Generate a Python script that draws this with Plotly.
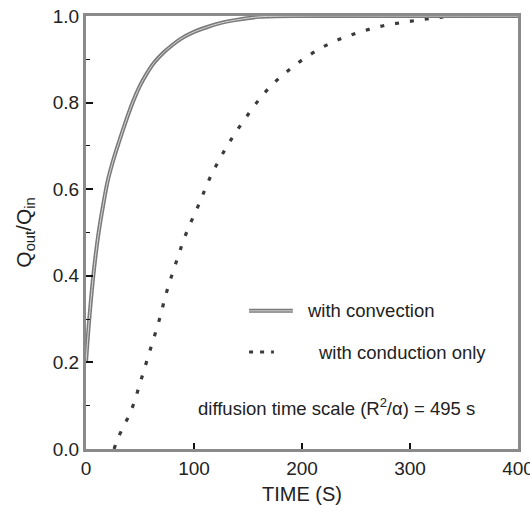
import plotly.graph_objects as go

# Data
conv_t = [0, 2.2, 4.6, 7.4, 11.4, 16, 20, 25, 30, 34.6, 39, 43.8, 50, 56.2, 63, 71.6, 80, 87, 98, 111.7, 125, 139.5, 160, 200, 300, 400]
conv_q = [0.20, 0.275, 0.345, 0.415, 0.495, 0.565, 0.618, 0.665, 0.705, 0.740, 0.772, 0.804, 0.839, 0.867, 0.892, 0.915, 0.933, 0.946, 0.961, 0.974, 0.984, 0.991, 0.998, 1.0, 1.0, 1.0]

cond_t = [26, 30, 42.3, 50.9, 59.3, 67.6, 74.7, 83.3, 92.6, 104.5, 115.7, 130.3, 147.9, 168.8,
          194.4, 221.3, 247.5, 274.4, 301, 327.8, 355, 365]
cond_q = [0.0, 0.027, 0.092, 0.159, 0.228, 0.296, 0.363, 0.43, 0.497, 0.565, 0.631, 0.698, 0.765, 0.832,
          0.888, 0.931, 0.958, 0.977, 0.988, 0.997, 1.0, 1.0]

x_ticks = [0, 100, 200, 300, 400]
y_ticks = [0.0, 0.2, 0.4, 0.6, 0.8, 1.0]
y_ticklabels = ["0.0", "0.2", "0.4", "0.6", "0.8", "1.0"]

FONT = "Liberation Sans, Arial, Helvetica, sans-serif"

fig = go.Figure()

# conduction only (dotted)
fig.add_trace(go.Scatter(
    x=cond_t, y=cond_q, mode="lines", line=dict(color="#3a3a3a", width=3.2, dash="4px,11px", shape="spline"),
    showlegend=False, hoverinfo="skip"))

# with convection (double-line look)
fig.add_trace(go.Scatter(
    x=conv_t, y=conv_q, mode="lines", line=dict(color="#7a7a7a", width=4, shape="spline", smoothing=0.8),
    showlegend=False, hoverinfo="skip"))
fig.add_trace(go.Scatter(
    x=conv_t, y=conv_q, mode="lines", line=dict(color="#d8d8d8", width=1, shape="spline", smoothing=0.8),
    showlegend=False, hoverinfo="skip"))

# Legend samples (manual, inside the plot)
fig.add_shape(type="line", xref="x", yref="y", x0=151, x1=191.5, y0=0.319, y1=0.319,
              line=dict(color="#7a7a7a", width=4))
fig.add_shape(type="line", xref="x", yref="y", x0=151, x1=191.5, y0=0.319, y1=0.319,
              line=dict(color="#d8d8d8", width=1))
fig.add_shape(type="line", xref="x", yref="y", x0=151, x1=174, y0=0.224, y1=0.224,
              line=dict(color="#3a3a3a", width=3, dash="4px,7px"))

fig.add_annotation(x=202.5, y=0.319, xref="x", yref="y", text="with convection", showarrow=False,
                   xanchor="left", yanchor="middle", font=dict(family=FONT, size=18.5, color="#222"))
fig.add_annotation(x=212.5, y=0.224, xref="x", yref="y", text="with conduction only", showarrow=False,
                   xanchor="left", yanchor="middle", font=dict(family=FONT, size=18.5, color="#222"))
fig.add_annotation(x=362, y=0.097, xref="x", yref="y",
                   text="diffusion time scale (R<sup>2</sup>/α) = 495 s", showarrow=False,
                   xanchor="right", yanchor="middle", font=dict(family=FONT, size=18.5, color="#222"))

fig.update_layout(
    width=530, height=511,
    margin=dict(l=86, r=12, t=16, b=62, autoexpand=False),
    paper_bgcolor="white", plot_bgcolor="white",
    font=dict(family=FONT, size=19, color="#222"),
)
fig.update_xaxes(
    range=[0, 400], tickvals=x_ticks, ticktext=[str(v) for v in x_ticks],
    ticks="inside", ticklen=6, tickwidth=1.5, tickcolor="#111",
    showline=True, mirror=True, linecolor="#8a8a8a", linewidth=3,
    showgrid=False, zeroline=False, ticklabeloverflow="allow",
    title=dict(text="TIME (S)", font=dict(size=20), standoff=10),
    tickfont=dict(size=19), automargin=False,
)
fig.update_yaxes(
    range=[0, 1.0], tickvals=y_ticks, ticktext=y_ticklabels,
    ticks="inside", ticklen=7, tickwidth=1.5, tickcolor="#111",
    minor=dict(dtick=0.1, ticks="inside", ticklen=4, tickcolor="#111", tickwidth=1.2),
    showline=True, mirror=True, linecolor="#8a8a8a", linewidth=3,
    showgrid=False, zeroline=False, ticklabeloverflow="allow",
    title=dict(text="Q<sub>out</sub>/Q<sub>in</sub>", font=dict(size=21), standoff=16),
    tickfont=dict(size=19), automargin=False,
)

fig.write_html("out.html")
